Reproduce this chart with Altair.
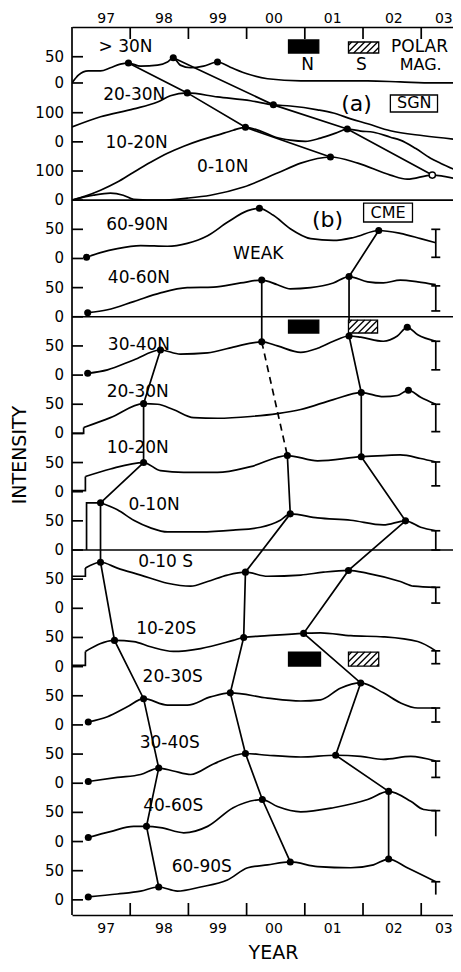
import altair as alt
import pandas as pd

FONT = "DejaVu Sans"
X_DOMAIN = [1997.0, 2003.546]
Y_DOMAIN = [-26.0, 1497.0]
PX_PER_YEAR = 58.2
PX_PER_UNIT = 0.583

# ---------------- axes ----------------
XTICK_YEARS = [1998, 1999, 2000, 2001, 2002, 2003]
XLAB_POS = [1997.58, 1998.57, 1999.50, 2000.46, 2001.47, 2002.52, 2003.38]
XLAB_TXT = ["97", "98", "99", "00", "01", "02", "03"]
YTICK_POS = [0, 50, 100, 150, 200, 250, 300, 350, 400, 450, 500, 550, 600, 650,
             700, 750, 800, 850, 900, 950, 1000, 1050, 1100, 1150,
             1200, 1250, 1300, 1350, 1401, 1446]
YTICK_TXT = ["0", "50"] * 12 + ["0", "100", "0", "100", "0", "50"]
Y_TITLE = "INTENSITY"
X_TITLE = "YEAR"

# band baselines (stacked axis units) and gains
BASES = {"A30": 1401, "A2030": 1300, "A1020": 1200, "A010": 1200,
         "N6090": 1100, "N4060": 1000, "N3040": 900, "N2030": 800, "N1020": 700,
         "N010": 600, "S010": 500, "S1020": 400, "S2030": 300, "S3040": 200,
         "S4060": 100, "S6090": 0}
GAINS = {"A30": 0.9, "A2030": 0.5, "A1020": 0.5, "A010": 0.5}

# ---------------- (a) SGN ----------------
A30_YRS = [1997.0, 1997.11, 1997.28, 1997.49, 1997.66, 1997.83, 1997.97, 1998.18, 1998.47, 1998.64, 1998.74, 1998.86,
           1999.04, 1999.26, 1999.50, 1999.72, 2000.02, 2000.36, 2000.93, 2001.49, 2002.08, 2002.64, 2003.21, 2003.68]
A30_VAL = [0, 15, 23, 23, 29, 36, 38, 32, 34, 40, 48, 34, 29, 32, 40, 30, 17, 8, 4, 4, 4, 2, 0, 0]
A2030_YRS = [1997.0, 1997.49, 1998.06, 1998.47, 1998.69, 1998.98, 1999.50, 2000.07, 2000.46, 2000.75, 2001.22,
             2001.49, 2001.79, 2002.08, 2002.47, 2003.04, 2003.68]
A2030_VAL = [51, 86, 113, 137, 158, 168, 154, 141, 127, 123, 110, 99, 79, 62, 38, 21, 7]
A1020_YRS = [1997.0, 1997.23, 1997.49, 1997.78, 1998.06, 1998.35, 1998.64, 1998.92, 1999.21, 1999.50, 1999.77,
             1999.98, 2000.24, 2000.50, 2000.75, 2001.01, 2001.27, 2001.53, 2001.73, 2001.96, 2002.18, 2002.47,
             2002.64, 2002.90, 2003.16, 2003.33, 2003.68]
A1020_VAL = [0, 14, 34, 62, 96, 130, 161, 185, 206, 223, 240, 250, 237, 216, 206, 202, 213, 230, 244, 237, 233,
             216, 206, 178, 144, 127, 96]
A010_YRS = [1997.0, 1997.37, 1997.66, 1997.88, 1998.06, 1998.52, 1998.98, 1999.38, 1999.95, 2000.53, 2000.93,
            2001.44, 2001.91, 2002.47, 2002.76, 2003.19, 2003.68]
A010_VAL = [0, 17, 24, 17, 3, 0, 7, 17, 45, 93, 127, 148, 127, 86, 72, 86, 69]

# ---------------- (b) CME ----------------
N6090_YRS = [1997.25, 1997.49, 1997.78, 1998.18, 1998.64, 1998.98, 1999.33, 1999.67, 2000.02, 2000.22, 2000.46,
             2000.75, 2001.10, 2001.49, 2001.84, 2002.27, 2002.64, 2002.99, 2003.25]
N6090_VAL = [2, 10, 17, 22, 21, 26, 39, 62, 82, 86, 74, 51, 34, 31, 36, 48, 43, 34, 27]
N4060_YRS = [1997.27, 1997.61, 1998.06, 1998.52, 1998.98, 1999.43, 1999.90, 2000.26, 2000.53, 2000.75, 2001.10,
             2001.49, 2001.76, 2002.08, 2002.35, 2002.64, 2002.94, 2003.25]
N4060_VAL = [7, 12, 26, 41, 50, 51, 58, 63, 55, 48, 50, 58, 69, 60, 58, 63, 60, 55]
N3040_YRS = [1997.27, 1997.61, 1998.06, 1998.52, 1998.86, 1999.33, 1999.77, 2000.26, 2000.53, 2000.93, 2001.22,
             2001.49, 2001.76, 2001.96, 2002.35, 2002.59, 2002.76, 2002.94, 2003.25]
N3040_VAL = [3, 9, 26, 43, 36, 38, 48, 57, 50, 39, 46, 58, 67, 65, 58, 67, 82, 69, 58]
N2030_YRS = [1997.20, 1997.66, 1998.23, 1998.47, 1998.74, 1999.09, 1999.50, 2000.07, 2000.53, 2000.93, 2001.49,
             2001.97, 2002.35, 2002.59, 2002.78, 2002.99, 2003.25]
N2030_VAL = [10, 27, 51, 50, 41, 27, 26, 29, 34, 41, 58, 70, 63, 65, 74, 62, 50]
N1020_YRS = [1997.23, 1997.66, 1998.23, 1998.52, 1998.92, 1999.50, 2000.07, 2000.70, 2001.22, 2001.97, 2002.35,
             2002.64, 2002.99, 2003.25]
N1020_VAL = [26, 39, 50, 36, 33, 33, 43, 62, 53, 60, 62, 63, 57, 51]
N010_YRS = [1997.49, 1997.78, 1998.06, 1998.35, 1998.64, 1999.21, 1999.77, 2000.24, 2000.58, 2000.75, 2001.22,
            2001.79, 2002.35, 2002.73, 2002.99, 2003.25]
N010_VAL = [81, 69, 51, 38, 31, 31, 34, 39, 51, 62, 55, 51, 43, 50, 39, 33]
S010_YRS = [1997.23, 1997.49, 1997.78, 1998.18, 1998.64, 1999.04, 1999.33, 1999.67, 1999.98, 2000.36, 2000.93,
            2001.32, 2001.75, 2002.08, 2002.64, 2002.87, 2003.25]
S010_VAL = [69, 79, 69, 57, 43, 38, 46, 57, 62, 55, 57, 62, 65, 60, 46, 38, 36]
S1020_YRS = [1997.23, 1997.73, 1998.06, 1998.35, 1998.74, 1999.21, 1999.77, 1999.95, 2000.36, 2000.98, 2001.27,
             2001.79, 2002.35, 2002.94, 2003.25]
S1020_VAL = [26, 45, 43, 34, 26, 31, 45, 50, 53, 57, 58, 53, 51, 43, 27]
S2030_YRS = [1997.28, 1997.61, 1997.95, 1998.23, 1998.64, 1998.98, 1999.38, 1999.72, 2000.36, 2000.93, 2001.27,
             2001.61, 2001.96, 2002.35, 2002.64, 2002.94, 2003.25]
S2030_VAL = [5, 14, 31, 45, 34, 34, 48, 55, 46, 41, 43, 63, 72, 55, 38, 29, 29]
S3040_YRS = [1997.28, 1997.78, 1998.18, 1998.49, 1998.74, 1999.04, 1999.43, 1999.98, 2000.36, 2000.93, 2001.53,
             2001.96, 2002.35, 2002.82, 2003.25]
S3040_VAL = [3, 10, 15, 26, 21, 15, 33, 51, 48, 45, 48, 46, 41, 46, 38]
S4060_YRS = [1997.28, 1997.66, 1998.06, 1998.28, 1998.52, 1998.92, 1999.33, 1999.77, 2000.27, 2000.53, 2000.93,
             2001.49, 2002.08, 2002.44, 2002.82, 2003.04, 2003.25]
S4060_VAL = [7, 17, 26, 26, 24, 15, 26, 58, 72, 60, 51, 58, 72, 86, 69, 55, 53]
S6090_YRS = [1997.28, 1997.78, 1998.18, 1998.49, 1998.81, 1999.21, 1999.67, 2000.02, 2000.36, 2000.75, 2001.22,
             2001.79, 2002.18, 2002.44, 2002.76, 2003.25]
S6090_VAL = [5, 10, 15, 22, 15, 22, 34, 55, 60, 65, 57, 55, 60, 70, 55, 31]

# small step brackets at the left edge (year, value)
BRACKETS = {
    "N2030": ([1997.0, 1997.20, 1997.20], [0, 0, 10]),
    "N1020": ([1997.0, 1997.23, 1997.23], [2, 2, 26]),
    "N010": ([1997.25, 1997.25, 1997.49], [0, 81, 81]),
    "S010": ([1997.0, 1997.23, 1997.23], [55, 55, 69]),
    "S1020": ([1997.0, 1997.23, 1997.23], [2, 2, 26]),
}

# error bars at the right end
EB_YEAR = 2003.25
EB_CURVE = ["N6090", "N4060", "N3040", "N2030", "N1020", "N010", "S010", "S1020", "S2030", "S3040", "S4060", "S6090"]
EB_HI = [50, 53, 58, 50, 51, 33, 36, 27, 29, 38, 53, 31]
EB_LO = [2, 10, 9, 3, 10, 0, 9, 5, 5, 10, 9, 9]
EB_LOWCAP = [True] * 10 + [False, False]

# marked points and migration links
DOTS = [("A30", 1997.97), ("A30", 1998.74), ("A30", 1999.50), ("A2030", 1998.98), ("A2030", 2000.46),
        ("A1020", 1999.98), ("A1020", 2001.73), ("A010", 2001.44),
        ("N6090", 1997.25), ("N6090", 2000.22), ("N6090", 2002.27), ("N4060", 1997.27), ("N4060", 2000.26),
        ("N4060", 2001.76), ("N3040", 1997.27), ("N3040", 1998.52), ("N3040", 2000.26), ("N3040", 2001.76),
        ("N3040", 2002.76), ("N2030", 1998.23), ("N2030", 2001.97), ("N2030", 2002.78),
        ("N1020", 1998.23), ("N1020", 2000.70), ("N1020", 2001.97), ("N010", 1997.49), ("N010", 2000.75),
        ("N010", 2002.73), ("S010", 1997.49), ("S010", 1999.98), ("S010", 2001.75),
        ("S1020", 1997.73), ("S1020", 1999.95), ("S1020", 2000.98),
        ("S2030", 1997.28), ("S2030", 1998.23), ("S2030", 1999.72), ("S2030", 2001.96),
        ("S3040", 1997.28), ("S3040", 1998.49), ("S3040", 1999.98), ("S3040", 2001.53),
        ("S4060", 1997.28), ("S4060", 1998.28), ("S4060", 2000.27), ("S4060", 2002.44),
        ("S6090", 1997.28), ("S6090", 1998.49), ("S6090", 2000.75), ("S6090", 2002.44)]
OPEN_DOTS = [("A010", 2003.19)]
CHAINS_SOLID = [
    [("A30", 1997.97), ("A2030", 1998.98), ("A1020", 1999.98), ("A010", 2001.44)],
    [("A30", 1998.74), ("A2030", 2000.46), ("A1020", 2001.73), ("A010", 2003.19)],
    [("N4060", 2000.26), ("N3040", 2000.26)],
    [("N6090", 2002.27), ("N4060", 2001.76), ("N3040", 2001.76), ("N2030", 2001.97), ("N1020", 2001.97),
     ("N010", 2002.73), ("S010", 2001.75), ("S1020", 2000.98), ("S2030", 2001.96), ("S3040", 2001.53),
     ("S4060", 2002.44), ("S6090", 2002.44)],
    [("N3040", 1998.52), ("N2030", 1998.23), ("N1020", 1998.23), ("N010", 1997.49), ("S010", 1997.49),
     ("S1020", 1997.73), ("S2030", 1998.23), ("S3040", 1998.49), ("S4060", 1998.28), ("S6090", 1998.49)],
    [("N1020", 2000.70), ("N010", 2000.75), ("S010", 1999.98), ("S1020", 1999.95), ("S2030", 1999.72),
     ("S3040", 1999.98), ("S4060", 2000.27), ("S6090", 2000.75)],
]
CHAINS_DASHED = [[("N3040", 2000.26), ("N1020", 2000.70)]]

DIVIDERS = [1200, 1000, 600]

# annotation texts
TEXT_TXT = ["> 30N", "20-30N", "10-20N", "0-10N", "(a)", "SGN", "N", "S", "POLAR", "MAG.", "(b)", "CME",
            "60-90N", "WEAK", "40-60N", "30-40N", "20-30N", "10-20N", "0-10N", "0-10 S", "10-20S", "20-30S",
            "30-40S", "40-60S", "60-90S"]
TEXT_X = [1997.92, 1998.07, 1998.11, 1999.59, 2001.89, 2002.88, 2001.05, 2001.97, 2002.97, 2002.99, 2001.39,
          2002.43, 1998.12, 2000.20, 1998.15, 1998.15, 1998.13, 1998.13, 1998.41, 1998.61, 1998.62, 1998.73,
          1998.68, 1998.74, 1999.23]
TEXT_Y = [1462.7, 1380.4, 1298, 1256.9, 1364.9, 1365.8, 1431.8, 1431.8, 1462.7, 1431.8, 1166, 1178.8,
          1157.4, 1107.7, 1066.5, 951.6, 871, 775, 677.2, 579.4, 464.5, 382.2, 269, 161, 56.4]
TEXT_SIZE = [17, 17, 17, 17, 22, 16, 17, 17, 17, 16, 22, 16, 17, 17, 17, 17, 17, 17, 17, 17, 17, 17, 17, 17, 17]

# boxes: (x0, x1, y0, y1, kind)
BOXES = [(2002.47, 2003.28, 1351.2, 1380.4, "frame"), (2002.01, 2002.85, 1162.6, 1195.1, "frame"),
         (2000.72, 2001.24, 1452.4, 1474.7, "solid"), (2001.75, 2002.27, 1452.4, 1471.3, "hatch"),
         (2000.72, 2001.24, 972.2, 994.4, "solid"), (2001.75, 2002.25, 972.2, 994.4, "hatch"),
         (2000.72, 2001.27, 401.0, 425.0, "solid"), (2001.75, 2002.27, 401.0, 425.0, "hatch")]

# ---------------- build tables ----------------
CURVES = [("A30", A30_YRS, A30_VAL), ("A2030", A2030_YRS, A2030_VAL), ("A1020", A1020_YRS, A1020_VAL),
          ("A010", A010_YRS, A010_VAL), ("N6090", N6090_YRS, N6090_VAL), ("N4060", N4060_YRS, N4060_VAL),
          ("N3040", N3040_YRS, N3040_VAL), ("N2030", N2030_YRS, N2030_VAL), ("N1020", N1020_YRS, N1020_VAL),
          ("N010", N010_YRS, N010_VAL), ("S010", S010_YRS, S010_VAL), ("S1020", S1020_YRS, S1020_VAL),
          ("S2030", S2030_YRS, S2030_VAL), ("S3040", S3040_YRS, S3040_VAL), ("S4060", S4060_YRS, S4060_VAL),
          ("S6090", S6090_YRS, S6090_VAL)]
CURVE_MAP = {n: (y, v) for n, y, v in CURVES}


def ypos(name, val):
    return BASES[name] + GAINS.get(name, 1.0) * val


def point(name, yr):
    yrs, vals = CURVE_MAP[name]
    i = min(range(len(yrs)), key=lambda j: abs(yrs[j] - yr))
    return yrs[i], ypos(name, vals[i])


curve_rows = []
for n, yrs, vals in CURVES:
    for yr, v in zip(yrs, vals):
        curve_rows.append({"curve": n, "year": yr, "y": ypos(n, v)})
curve_df = pd.DataFrame(curve_rows)

br_rows = []
for n, (yrs, vals) in BRACKETS.items():
    for k, (yr, v) in enumerate(zip(yrs, vals)):
        br_rows.append({"curve": n, "seq": k, "year": yr, "y": ypos(n, v)})
br_df = pd.DataFrame(br_rows)


def chain_df(chains):
    rows = []
    for ci, ch in enumerate(chains):
        for k, (n, yr) in enumerate(ch):
            x, y = point(n, yr)
            rows.append({"chain": ci, "seq": k, "year": x, "y": y})
    return pd.DataFrame(rows)


solid_df = chain_df(CHAINS_SOLID)
dash_df = chain_df(CHAINS_DASHED)

dot_df = pd.DataFrame([dict(zip(("year", "y"), point(n, yr))) for n, yr in DOTS])
open_df = pd.DataFrame([dict(zip(("year", "y"), point(n, yr))) for n, yr in OPEN_DOTS])

CAP = 4.5 / PX_PER_YEAR
rule_rows = []
for n, hi, lo, lowcap in zip(EB_CURVE, EB_HI, EB_LO, EB_LOWCAP):
    yh, yl = ypos(n, hi), ypos(n, lo)
    rule_rows.append({"x1": EB_YEAR, "x2": EB_YEAR, "y1": yh, "y2": yl})
    rule_rows.append({"x1": EB_YEAR - CAP, "x2": EB_YEAR + CAP, "y1": yh, "y2": yh})
    if lowcap:
        rule_rows.append({"x1": EB_YEAR - CAP, "x2": EB_YEAR + CAP, "y1": yl, "y2": yl})
# inner axis ticks
XT = 12 / PX_PER_UNIT
YT = 11 / PX_PER_YEAR
for yr in XTICK_YEARS:
    rule_rows.append({"x1": yr, "x2": yr, "y1": Y_DOMAIN[0], "y2": Y_DOMAIN[0] + XT})
    rule_rows.append({"x1": yr, "x2": yr, "y1": Y_DOMAIN[1], "y2": Y_DOMAIN[1] - XT})
for u in YTICK_POS:
    rule_rows.append({"x1": X_DOMAIN[0], "x2": X_DOMAIN[0] + YT, "y1": u, "y2": u})
# left axis line
rule_rows.append({"x1": X_DOMAIN[0], "x2": X_DOMAIN[0], "y1": Y_DOMAIN[0], "y2": Y_DOMAIN[1]})
rule_df = pd.DataFrame(rule_rows)

div_df = pd.DataFrame({"x1": [X_DOMAIN[0]] * len(DIVIDERS), "x2": [X_DOMAIN[1]] * len(DIVIDERS), "y": DIVIDERS})


def hatch(x0, x1, y0, y1, step=6.5):
    w = (x1 - x0) * PX_PER_YEAR
    h = (y1 - y0) * PX_PER_UNIT
    segs = []
    d = -h + step / 2
    while d < w:
        sx, sy, ex, ey = d, 0.0, d + h, h
        if sx < 0:
            sy, sx = -sx, 0.0
        if ex > w:
            ey, ex = h - (ex - w), w
        segs.append({"x1": x0 + sx / PX_PER_YEAR, "x2": x0 + ex / PX_PER_YEAR,
                     "y1": y0 + sy / PX_PER_UNIT, "y2": y0 + ey / PX_PER_UNIT})
        d += step
    return segs


hatch_rows = []
for b in BOXES:
    if b[4] == "hatch":
        hatch_rows += hatch(*b[:4])
hatch_df = pd.DataFrame(hatch_rows)
box_df = pd.DataFrame([{"x1": b[0], "x2": b[1], "y1": b[2], "y2": b[3],
                        "fill": "black" if b[4] == "solid" else "white"} for b in BOXES])
text_df = pd.DataFrame({"t": TEXT_TXT, "x": TEXT_X, "y": TEXT_Y, "fs": TEXT_SIZE})
ylab_df = pd.DataFrame({"t": YTICK_TXT, "y": YTICK_POS, "x": [X_DOMAIN[0]] * len(YTICK_POS)})
ytitle_df = pd.DataFrame({"t": [Y_TITLE], "x": [1996.115], "y": [762.9]})


def label_expr(pos, txt):
    s = "''"
    for p, t in zip(reversed(pos), reversed(txt)):
        s = f"(abs(datum.value - {p}) < 0.01 ? '{t}' : {s})"
    return s


xs = alt.Scale(domain=X_DOMAIN, nice=False, zero=False)
ys = alt.Scale(domain=Y_DOMAIN, nice=False, zero=False)

common_axis = dict(domain=True, domainColor="black", domainWidth=1.6, ticks=False, tickSize=0, grid=False,
                   labelFont=FONT, labelColor="black", labelFlush=False, labelOverlap=False)

x_bottom = alt.Axis(orient="bottom", values=XLAB_POS, labelExpr=label_expr(XLAB_POS, XLAB_TXT), labelPadding=6,
                    labelFontSize=14,
                    title=X_TITLE, titleFont=FONT, titleFontSize=19, titleFontWeight="normal", titleColor="black",
                    titleX=201, titleY=37, titleAlign="center", titleBaseline="middle", **common_axis)
x_top = alt.Axis(orient="top", values=XLAB_POS, labelExpr=label_expr(XLAB_POS, XLAB_TXT), labelPadding=2,
                 labelFontSize=14, title=None, **common_axis)

LW = 1.7

curves = alt.Chart(curve_df).mark_line(interpolate="monotone", color="black", strokeWidth=LW, clip=True).encode(
    x=alt.X("year:Q", scale=xs, axis=x_bottom), y=alt.Y("y:Q", scale=ys, axis=None), detail="curve:N")

brackets = alt.Chart(br_df).mark_line(color="black", strokeWidth=LW).encode(
    x=alt.X("year:Q", scale=xs, axis=None), y=alt.Y("y:Q", scale=ys, axis=None), detail="curve:N",
    order="seq:Q")

links = alt.Chart(solid_df).mark_line(color="black", strokeWidth=LW).encode(
    x=alt.X("year:Q", scale=xs, axis=None), y=alt.Y("y:Q", scale=ys, axis=None), detail="chain:N",
    order="seq:Q")

dashed = alt.Chart(dash_df).mark_line(color="black", strokeWidth=LW, strokeDash=[7, 5]).encode(
    x=alt.X("year:Q", scale=xs, axis=None), y=alt.Y("y:Q", scale=ys, axis=None), detail="chain:N",
    order="seq:Q")

rules = alt.Chart(rule_df).mark_rule(color="black", strokeWidth=LW).encode(
    x=alt.X("x1:Q", scale=xs, axis=None), x2="x2:Q", y=alt.Y("y1:Q", scale=ys, axis=None), y2="y2:Q")

dividers = alt.Chart(div_df).mark_rule(color="black", strokeWidth=1.6).encode(
    x=alt.X("x1:Q", scale=xs, axis=x_top), x2="x2:Q", y=alt.Y("y:Q", scale=ys, axis=None))

boxes = alt.Chart(box_df).mark_rect(stroke="black", strokeWidth=1.3).encode(
    x=alt.X("x1:Q", scale=xs, axis=None), x2="x2:Q", y=alt.Y("y1:Q", scale=ys, axis=None), y2="y2:Q",
    fill=alt.Fill("fill:N", scale=None))

hatches = alt.Chart(hatch_df).mark_rule(color="black", strokeWidth=1.3).encode(
    x=alt.X("x1:Q", scale=xs, axis=None), x2="x2:Q", y=alt.Y("y1:Q", scale=ys, axis=None), y2="y2:Q")

dots = alt.Chart(dot_df).mark_circle(size=50, color="black", opacity=1).encode(
    x=alt.X("year:Q", scale=xs, axis=None), y=alt.Y("y:Q", scale=ys, axis=None))

opens = alt.Chart(open_df).mark_point(shape="circle", size=40, filled=True, fill="white", stroke="black",
                                      strokeWidth=1.4, opacity=1).encode(
    x=alt.X("year:Q", scale=xs, axis=None), y=alt.Y("y:Q", scale=ys, axis=None))

texts = alt.Chart(text_df).mark_text(font=FONT, color="black", align="center", baseline="middle").encode(
    x=alt.X("x:Q", scale=xs, axis=None), y=alt.Y("y:Q", scale=ys, axis=None), text="t:N",
    size=alt.Size("fs:Q", scale=None, legend=None))

ylabels = alt.Chart(ylab_df).mark_text(font=FONT, fontSize=15, color="black", align="right", baseline="middle",
                                       dx=-8).encode(
    x=alt.X("x:Q", scale=xs, axis=None), y=alt.Y("y:Q", scale=ys, axis=None), text="t:N")

ytitle = alt.Chart(ytitle_df).mark_text(font=FONT, fontSize=19, color="black", align="center", baseline="middle",
                                        angle=270).encode(
    x=alt.X("x:Q", scale=xs, axis=None), y=alt.Y("y:Q", scale=ys, axis=None), text="t:N")

chart = alt.layer(curves, brackets, links, dashed, rules, dividers, boxes, hatches, dots, opens, texts,
                  ylabels, ytitle).resolve_axis(x="independent").properties(
    width=381, height=888,
    padding={"left": 64, "top": 19, "right": 0, "bottom": 49},
    autosize=alt.AutoSizeParams(type="none"),
    background="white",
).configure_view(stroke=None)

chart.save("out.html", embed_options={"renderer": "svg", "actions": False})
